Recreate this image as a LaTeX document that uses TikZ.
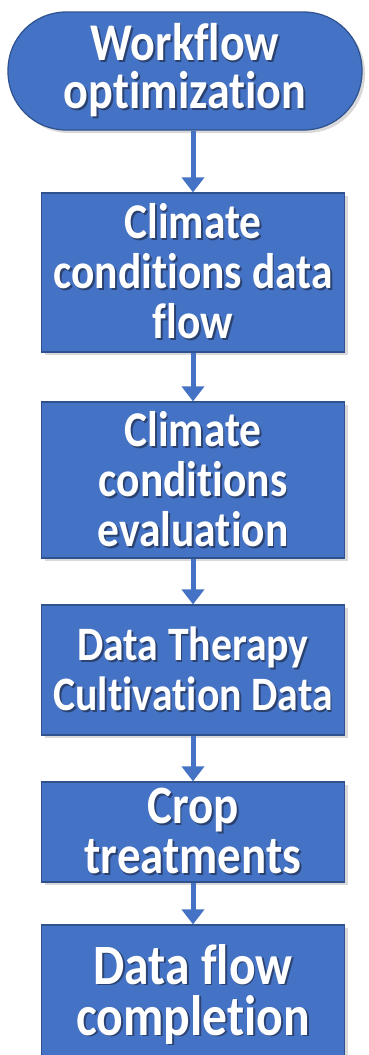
\documentclass[tikz,border=0pt]{standalone}
\usepackage{fontspec}
\setmainfont[FakeStretch=0.87, Ligatures=NoCommon]{Carlito}
\usetikzlibrary{arrows.meta,shadows}
\definecolor{flowblue}{HTML}{4472C4}
\definecolor{flowline}{HTML}{2F528F}
\definecolor{txtshade}{HTML}{2B4270}
\newcommand{\shd}[1]{\rlap{\kern1.8pt\raisebox{-1.8pt}{\color{txtshade}#1}}#1}
\tikzset{%
  >={Triangle[width=22pt,length=15pt]},
            base/.style = {rectangle, draw=flowline, line width=1.2pt,
                           fill=flowblue, text=white, inner sep=0pt,
                           text centered, align=center,
                           drop shadow={opacity=0.3, shadow xshift=3pt, shadow yshift=-3pt}},
  term/.style = {base, rounded corners=58pt, minimum width=354pt, minimum height=118pt,
                 font=\bfseries\fontsize{53}{48}\selectfont},
  box/.style  = {base, minimum width=303pt, font=\bfseries\fontsize{50}{50}\selectfont},
  flow/.style = {->, draw=flowblue, line width=5pt},
}

\begin{document}
\begin{tikzpicture}
  \useasboundingbox (0,0) rectangle (368pt,-1055pt);

  \node (onWF)   [term] at (185pt,-71pt)                                      {\shd{Workflow}\\\shd{optimization}};
  \node (onCCF)  [box, minimum height=159pt, node distance=201.5pt, below of=onWF, xshift=8pt] {\shd{Climate}\\\shd{conditions data}\\\shd{flow}};
  \node (onCCE)  [box, minimum height=156pt, node distance=207.5pt, below of=onCCF]  {\shd{Climate}\\\shd{conditions}\\\shd{evaluation}};
  \node (onDTC)  [box, minimum height=130pt, node distance=190pt, below of=onCCE, font=\bfseries\fontsize{48}{50}\selectfont] {\shd{Data Therapy}\\\shd{Cultivation Data}};
  \node (onCT)   [box, minimum height=100pt, node distance=162pt, below of=onDTC, font=\bfseries\fontsize{54}{50}\selectfont] {\shd{Crop}\\\shd{treatments}};
  \node (onDFC)  [box, minimum height=140pt, node distance=163pt, below of=onCT, font=\bfseries\fontsize{57}{51}\selectfont]  {\shd{Data flow}\\\shd{completion}};

  \draw[flow] (onCCF.north |- onWF.south) -- (onCCF.north);
  \draw[flow] (onCCF) -- (onCCE);
  \draw[flow] (onCCE) -- (onDTC);
  \draw[flow] (onDTC) -- (onCT);
  \draw[flow] (onCT) -- (onDFC);
\end{tikzpicture}
\end{document}
